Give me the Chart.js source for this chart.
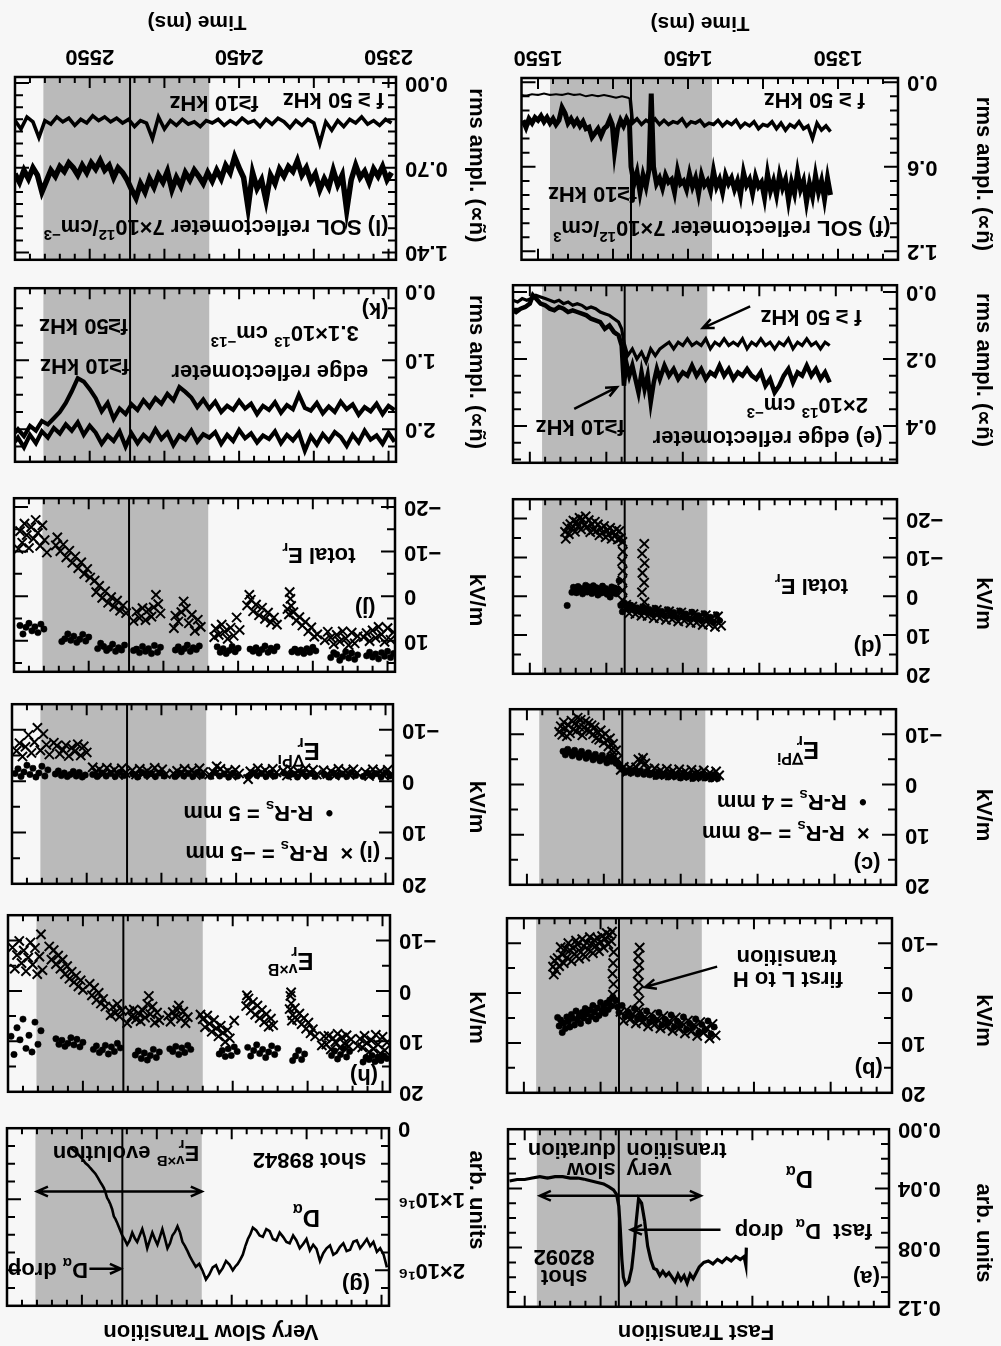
<!DOCTYPE html>
<html>
<head>
<meta charset="utf-8">
<script src="https://cdn.jsdelivr.net/npm/chart.js@4.4.0/dist/chart.umd.min.js"></script>
<style>
  html, body { margin: 0; padding: 0; background: #f7f7f7; overflow: hidden; }
  #page { position: relative; width: 1001px; height: 1346px; transform: rotate(180deg); transform-origin: 50% 50%;
          font-family: "Liberation Sans", Arial, sans-serif; }
  #page canvas { position: absolute; }
  .head { position: absolute; font-weight: bold; font-size: 22px; white-space: nowrap; transform: translate(-50%, -50%); }
</style>
</head>
<body>
<div id="page">
  <div class="head" style="left:305px;top:14px">Fast Transition</div>
  <div class="head" style="left:790px;top:14px">Very Slow Transition</div>
</div>
<script>
// ---- time axes ----
const fastTicks = [1350, 1450, 1550];
const slowTicks = [2350, 2450, 2550];

// ---- fast transition, shot 82092 ----
const aDalpha = [[1404,0.080],[1404.3,0.092],[1405.5,0.086],[1408,0.088],[1411,0.086],[1414,0.089],[1417,0.087],[1420,0.090],[1423,0.088],[1426,0.091],[1429,0.089],[1432,0.090],[1435,0.093],[1437,0.097],[1439,0.101],[1441,0.098],[1443,0.104],[1445,0.099],[1447,0.102],[1449,0.098],[1451,0.103],[1453,0.100],[1455,0.097],[1457,0.099],[1459,0.096],[1461,0.099],[1463,0.095],[1465,0.094],[1467,0.088],[1469,0.079],[1471,0.062],[1473,0.050],[1475,0.047],[1476.5,0.062],[1478,0.080],[1479.5,0.094],[1481.5,0.103],[1483.5,0.105],[1485,0.100],[1486,0.088],[1487,0.068],[1488,0.052],[1489.5,0.044],[1491.5,0.041],[1494.5,0.039],[1498,0.037],[1502,0.036],[1506,0.035],[1510,0.034],[1515,0.033],[1520,0.033],[1525,0.032],[1530,0.032],[1535,0.033],[1540,0.032],[1545,0.033],[1550,0.034],[1555,0.034],[1560,0.035]];

const bCross = [[1425,8.5],[1427,6.2],[1429,9.1],[1431,7.0],[1433,8.0],[1435,5.8],[1437,8.6],[1439,6.4],[1441,7.7],[1443,5.5],[1445,8.1],[1447,6.0],[1449,7.2],[1451,4.9],[1453,7.6],[1455,5.6],[1457,6.8],[1459,4.6],[1461,7.1],[1463,5.2],[1465,6.4],[1467,4.3],[1469,6.7],[1471,4.8],[1473,5.9],[1475,3.9],[1477,6.1],[1479,4.2],[1481,5.3],[1483,3.4],[1485,5.6],[1487,3.8],
  [1474.5,-9.1],[1475.5,-7.4],[1474.8,-5.6],[1475.8,-3.9],[1475,-2.1],[1475.5,-0.4],[1474.7,1.5],[1475.3,3.2],
  [1491.5,-8.2],[1491.8,-6.0],[1492.2,-3.9],[1491.6,-1.8],[1492,0.3],[1491.7,2.4],
  [1492.5,-12.3],[1493,-10.4],[1494,-11.6],[1495,-9.8],[1496,-12.0],[1497,-10.9],[1498,-9.1],[1499,-11.4],[1500,-10.2],[1501,-8.4],[1502,-11.0],[1503,-9.5],[1504,-10.6],[1505,-8.0],[1506,-9.9],[1507,-11.2],[1508,-8.7],[1509,-10.1],[1510,-7.3],[1511,-9.4],[1512,-10.8],[1513,-8.2],[1514,-6.9],[1515,-9.7],[1516,-10.5],[1517,-7.8],[1518,-9.0],[1519,-6.4],[1520,-8.6],[1521,-10.0],[1522,-7.1],[1523,-8.9],[1524,-6.0],[1525,-7.7],[1526,-9.2],[1527,-5.4],[1528,-7.0],[1529,-4.6],[1530,-6.5],[1530.5,-3.7],[1531,-5.3]];
const bDot = [[1426,6.8],[1428,8.2],[1430,5.6],[1432,7.4],[1434,6.3],[1436,7.9],[1438,5.2],[1440,6.9],[1442,6.1],[1444,7.3],[1446,4.8],[1448,6.5],[1450,5.7],[1452,6.8],[1454,4.4],[1456,6.0],[1458,5.3],[1460,6.4],[1462,3.9],[1464,5.5],[1466,4.9],[1468,5.8],[1470,3.6],[1472,5.1],[1474,4.4],[1476,5.2],[1478,3.1],[1480,4.6],[1482,3.8],[1484,4.7],[1486,2.5],[1488,3.9],[1489,2.8],[1490,1.5],
  [1492,0.8],[1493,2.6],[1494,1.4],[1495,3.3],[1496,2.0],[1497,4.1],[1498,2.7],[1499,3.6],[1500,1.9],[1501,4.5],[1502,3.0],[1503,5.2],[1504,3.8],[1505,2.5],[1506,4.7],[1507,3.4],[1508,5.6],[1509,4.2],[1510,3.1],[1511,5.0],[1512,3.9],[1513,6.1],[1514,4.6],[1515,5.4],[1516,3.6],[1517,6.4],[1518,5.1],[1519,4.3],[1520,6.8],[1521,5.7],[1522,4.8],[1523,7.1],[1524,6.0],[1525,7.9],[1526,5.4],[1527,6.6],[1528,4.9]];

const cCross = [[1425,-1.8],[1427,-2.6],[1429,-1.4],[1431,-2.3],[1433,-1.6],[1435,-2.8],[1437,-1.9],[1439,-2.5],[1441,-1.5],[1443,-2.9],[1445,-2.0],[1447,-2.6],[1449,-1.7],[1451,-3.0],[1453,-2.1],[1455,-2.7],[1457,-1.8],[1459,-3.1],[1461,-2.2],[1463,-2.8],[1465,-1.9],[1467,-3.2],[1469,-2.4],[1471,-3.0],[1473,-4.2],[1474.5,-5.3],[1476,-4.6],[1477.5,-5.0],[1479,-3.4],[1481,-2.6],[1483,-3.3],[1485,-2.5],[1487,-3.5],[1489,-2.9],
  [1491,-5.0],[1492,-6.8],[1493,-5.6],[1494,-8.1],[1495,-6.9],[1496,-9.2],[1497,-7.6],[1498,-8.8],[1499,-10.1],[1500,-8.3],[1501,-9.6],[1502,-10.8],[1503,-8.9],[1504,-10.3],[1505,-9.2],[1506,-11.4],[1507,-10.0],[1508,-11.8],[1509,-10.6],[1510,-12.2],[1511,-10.9],[1512,-12.6],[1513,-11.3],[1514,-9.8],[1515,-12.9],[1516,-11.5],[1517,-13.3],[1518,-10.6],[1519,-12.1],[1520,-11.0],[1521,-12.7],[1522,-10.2],[1523,-11.8],[1524,-9.6],[1525,-11.3],[1526,-12.4],[1527,-9.9],[1528,-11.6],[1529,-10.5]];
const cDot = [[1426,-1.2],[1428,-2.0],[1430,-1.1],[1432,-1.8],[1434,-1.3],[1436,-2.1],[1438,-1.4],[1440,-2.2],[1442,-1.2],[1444,-1.9],[1446,-1.5],[1448,-2.3],[1450,-1.3],[1452,-2.0],[1454,-1.6],[1456,-2.4],[1458,-1.5],[1460,-2.1],[1462,-1.7],[1464,-2.5],[1466,-1.6],[1468,-2.2],[1470,-1.9],[1472,-2.6],[1474,-2.0],[1476,-2.7],[1478,-2.1],[1480,-2.9],[1482,-2.3],[1484,-2.8],[1486,-2.4],[1488,-3.0],[1490,-3.6],
  [1492,-4.2],[1493.5,-5.1],[1495,-4.6],[1496.5,-5.5],[1498,-4.3],[1499.5,-5.0],[1501,-5.8],[1502.5,-4.7],[1504,-5.3],[1505.5,-6.0],[1507,-4.9],[1508.5,-5.6],[1510,-6.3],[1511.5,-5.2],[1513,-5.9],[1514.5,-6.6],[1516,-5.4],[1517.5,-6.1],[1519,-6.8],[1520.5,-5.7],[1522,-6.4],[1523.5,-7.0],[1525,-5.9],[1526.5,-6.6]];

const dCross = [[1425,7.6],[1427,5.2],[1429,7.9],[1431,5.8],[1433,7.2],[1435,4.9],[1437,7.4],[1439,5.5],[1441,6.8],[1443,4.6],[1445,6.9],[1447,5.1],[1449,6.3],[1451,4.2],[1453,6.5],[1455,4.8],[1457,6.0],[1459,3.9],[1461,6.1],[1463,4.4],[1465,5.6],[1467,3.5],[1469,5.7],[1471,4.0],[1473,5.1],[1475,3.2],[1477,5.0],[1479,3.6],[1481,4.6],[1483,2.7],[1485,4.4],[1487,2.2],
  [1475.2,-13.5],[1476.6,-11.0],[1475.0,-8.5],[1476.4,-6.0],[1475.3,-3.5],[1476.7,-1.0],[1475.1,1.5],
  [1489.5,-14.0],[1489.2,-11.5],[1489.7,-9.0],[1489.3,-6.5],[1489.6,-4.0],[1489.4,-1.5],[1489.5,1.0],
  [1490.5,-15.0],[1491.5,-16.8],[1492.5,-14.6],[1493.5,-17.2],[1494.5,-15.6],[1495.5,-16.5],[1496.5,-14.8],[1497.5,-17.6],[1498.5,-15.9],[1499.5,-16.9],[1500.5,-15.2],[1501.5,-18.1],[1502.5,-16.3],[1503.5,-17.4],[1504.5,-15.7],[1505.5,-18.5],[1506.5,-16.8],[1507.5,-19.2],[1508.5,-17.1],[1509.5,-18.6],[1510.5,-16.5],[1511.5,-19.6],[1512.5,-17.9],[1513.5,-20.6],[1514.5,-18.3],[1515.5,-19.8],[1516.5,-17.2],[1517.5,-20.2],[1518.5,-18.0],[1519.5,-19.1],[1520.5,-16.6],[1521.5,-19.5],[1522.5,-17.5],[1523.5,-18.6],[1524.5,-16.0],[1525.5,-17.9],[1526.5,-14.8],[1527,-16.6]];
const dDot = [[1426,6.3],[1428,4.8],[1430,6.7],[1432,5.4],[1434,6.0],[1436,4.5],[1438,6.2],[1440,5.0],[1442,5.7],[1444,4.1],[1446,5.8],[1448,4.6],[1450,5.3],[1452,3.8],[1454,5.4],[1456,4.2],[1458,4.9],[1460,3.5],[1462,5.0],[1464,3.9],[1466,4.5],[1468,3.1],[1470,4.6],[1472,3.4],[1474,4.1],[1476,2.8],[1478,4.0],[1480,3.0],[1482,3.6],[1484,2.3],[1486,3.3],[1488,1.8],[1489.5,4.0],[1490.5,2.4],
  [1491.6,-4.0],[1492.5,-1.8],[1493.5,-0.6],[1494.5,-2.1],[1495.5,-0.9],[1496.5,-2.4],[1497.5,0.2],[1498.5,-1.5],[1499.5,-0.5],[1500.5,-2.0],[1501.5,-1.0],[1502.5,-2.6],[1503.5,-0.8],[1504.5,-1.9],[1505.5,-0.3],[1506.5,-2.2],[1507.5,-1.2],[1508.5,-2.7],[1509.5,-0.7],[1510.5,-1.7],[1511.5,-2.4],[1512.5,-1.1],[1513.5,-2.8],[1514.5,-1.4],[1515.5,-0.6],[1516.5,-2.0],[1517.5,-1.3],[1518.5,-2.5],[1519.5,-0.9],[1520.5,-1.6],[1521.5,-2.3],[1522.5,-1.0],[1525.6,2.4]];

const eRef10 = [[1354,0.27],[1357,0.24],[1360,0.26],[1363,0.23],[1366,0.25],[1369,0.22],[1372,0.25],[1375,0.24],[1378,0.27],[1381,0.23],[1384,0.25],[1387,0.28],[1390,0.30],[1393,0.26],[1396,0.28],[1399,0.24],[1402,0.26],[1405,0.25],[1408,0.23],[1411,0.25],[1414,0.24],[1417,0.26],[1420,0.23],[1423,0.25],[1426,0.22],[1429,0.25],[1432,0.24],[1435,0.26],[1438,0.23],[1441,0.25],[1444,0.22],[1447,0.25],[1450,0.24],[1453,0.26],[1456,0.23],[1459,0.25],[1462,0.22],[1465,0.26],[1467,0.23],[1469,0.27],[1471,0.33],[1473,0.25],[1475,0.29],[1477,0.24],[1479,0.30],[1481,0.26],[1483,0.22],[1485,0.25],[1487,0.21],[1488.5,0.28],[1490,0.16],[1492,0.13],[1495,0.12],[1498,0.10],[1501,0.11],[1504,0.09],[1507,0.085],[1510,0.08],[1513,0.07],[1516,0.065],[1519,0.06],[1522,0.055],[1525,0.06],[1528,0.05],[1531,0.045],[1534,0.055],[1537,0.05],[1540,0.04],[1543,0.035],[1546,0.02],[1548,0.01],[1550,0.035],[1553,0.045],[1556,0.05],[1559,0.06],[1561,0.055]];
const eRef50 = [[1354,0.16],[1357,0.15],[1360,0.17],[1363,0.15],[1366,0.16],[1369,0.14],[1372,0.16],[1375,0.15],[1378,0.17],[1381,0.14],[1384,0.16],[1387,0.15],[1390,0.17],[1393,0.15],[1396,0.16],[1399,0.14],[1402,0.16],[1405,0.15],[1408,0.17],[1411,0.14],[1414,0.16],[1417,0.15],[1420,0.16],[1423,0.14],[1426,0.16],[1429,0.15],[1432,0.17],[1435,0.14],[1438,0.16],[1441,0.15],[1444,0.16],[1447,0.14],[1450,0.16],[1453,0.15],[1456,0.17],[1459,0.15],[1462,0.16],[1465,0.17],[1468,0.19],[1471,0.17],[1474,0.21],[1477,0.18],[1480,0.20],[1483,0.17],[1486,0.19],[1488.5,0.15],[1490,0.11],[1492,0.09],[1495,0.08],[1498,0.07],[1501,0.065],[1504,0.06],[1507,0.05],[1510,0.045],[1513,0.05],[1516,0.04],[1519,0.035],[1522,0.04],[1525,0.03],[1528,0.035],[1531,0.025],[1534,0.03],[1537,0.025],[1540,0.02],[1543,0.015],[1546,0.01],[1549,0.02],[1552,0.025],[1555,0.02],[1558,0.03],[1561,0.025]];

const fSol10 = [[1355,0.80],[1357,0.68],[1359,0.83],[1361,0.70],[1363,0.78],[1365,0.66],[1367,0.81],[1369,0.72],[1371,0.85],[1373,0.70],[1375,0.76],[1377,0.64],[1379,0.79],[1381,0.71],[1383,0.84],[1385,0.69],[1387,0.75],[1389,0.66],[1391,0.80],[1393,0.70],[1395,0.77],[1397,0.65],[1399,0.82],[1401,0.71],[1403,0.74],[1405,0.67],[1407,0.79],[1409,0.69],[1411,0.73],[1413,0.64],[1415,0.80],[1417,0.70],[1419,0.76],[1421,0.68],[1423,0.72],[1425,0.66],[1427,0.78],[1429,0.69],[1431,0.74],[1433,0.63],[1435,0.77],[1437,0.70],[1439,0.73],[1441,0.66],[1443,0.79],[1445,0.68],[1447,0.74],[1449,0.65],[1451,0.76],[1453,0.70],[1455,0.72],[1457,0.63],[1459,0.78],[1461,0.69],[1463,0.71],[1465,0.66],[1467,0.75],[1469,0.68],[1471,0.72],[1473,0.60],[1474.5,0.08],[1476,0.62],[1478,0.74],[1480,0.66],[1482,0.78],[1484,0.64],[1486,0.72],[1488,0.60],
  [1489,0.30],[1491,0.26],[1493,0.31],[1495,0.27],[1497,0.33],[1499,0.49],[1500.5,0.30],[1502,0.26],[1504,0.31],[1506,0.33],[1508,0.38],[1510,0.33],[1512,0.36],[1514,0.39],[1516,0.32],[1518,0.33],[1520,0.28],[1522,0.31],[1524,0.27],[1526,0.30],[1528,0.26],[1530,0.29],[1532,0.22],[1534,0.18],[1536,0.27],[1538,0.30],[1540,0.26],[1542,0.29],[1544,0.25],[1546,0.28],[1548,0.24],[1550,0.27],[1552,0.25],[1554,0.29],[1556,0.26],[1558,0.32],[1560,0.27]];
const fSol50Pre = [[1355,0.35],[1358,0.31],[1361,0.34],[1364,0.29],[1367,0.40],[1370,0.31],[1373,0.33],[1376,0.28],[1379,0.32],[1382,0.30],[1385,0.34],[1388,0.29],[1391,0.33],[1394,0.28],[1397,0.31],[1400,0.30],[1403,0.33],[1406,0.28],[1409,0.31],[1412,0.29],[1415,0.32],[1418,0.27],[1421,0.30],[1424,0.28],[1427,0.31],[1430,0.27],[1433,0.30],[1436,0.29],[1439,0.31],[1442,0.27],[1445,0.29],[1448,0.28],[1451,0.31],[1454,0.26],[1457,0.29],[1460,0.28],[1463,0.30],[1466,0.27],[1469,0.30],[1472,0.26],[1475,0.29],[1478,0.27],[1481,0.30],[1484,0.26],[1487,0.29],[1488.5,0.12]];
const fSol50Post = [[1488.5,0.12],[1490,0.11],[1494,0.10],[1498,0.11],[1502,0.10],[1506,0.09],[1510,0.10],[1514,0.09],[1518,0.10],[1522,0.085],[1526,0.09],[1530,0.08],[1534,0.09],[1538,0.085],[1542,0.09],[1546,0.08],[1550,0.09],[1554,0.085],[1558,0.095],[1561,0.09]];

// ---- very slow transition, shot 89842 (D_alpha in 1e16) ----
const gDalpha = [[2346.4,1.96],[2348.6,1.78],[2350.9,1.69],[2353.1,1.74],[2355.4,1.60],[2357.6,1.66],[2359.8,1.56],[2362.1,1.63],[2364.3,1.69],[2366.5,1.58],[2368.8,1.60],[2371,1.71],[2373.3,1.73],[2375.5,1.62],[2377.7,1.67],[2380,1.75],[2382.2,1.78],[2384.4,1.65],[2386.7,1.69],[2388.9,1.76],[2391.1,1.87],[2393.4,1.70],[2395.6,1.64],[2397.8,1.72],[2400.1,1.56],[2402.3,1.63],[2404.6,1.69],[2406.8,1.58],[2409,1.51],[2411.3,1.62],[2413.5,1.60],[2415.7,1.53],[2418,1.47],[2420.2,1.58],[2422.5,1.56],[2424.7,1.45],[2426.9,1.42],[2429.2,1.53],[2431.4,1.51],[2433.6,1.44],[2435.9,1.40],[2437.5,1.49],[2439.2,1.56],[2440.9,1.66],[2442.6,1.78],[2444.3,1.85],[2446,1.91],[2447.7,1.95],[2449.3,2.00],[2451.5,1.92],[2453.8,1.87],[2456,1.97],[2458.3,2.04],[2460.5,1.93],[2462.7,1.96],[2465,2.06],[2467.2,2.13],[2469.4,2.01],[2471.7,1.91],[2474,1.95],[2476.2,1.87],[2478,1.80],[2479.5,1.73],[2481.2,1.66],[2482.9,1.60],[2484.5,1.47],[2486.2,1.38],[2487.9,1.46],[2489.6,1.51],[2491.2,1.62],[2492.9,1.69],[2494.6,1.55],[2496.3,1.42],[2497.9,1.53],[2499.6,1.64],[2501.3,1.56],[2503,1.47],[2504.7,1.58],[2506.4,1.69],[2508,1.54],[2509.7,1.42],[2511.4,1.51],[2513.1,1.60],[2514.7,1.55],[2516.4,1.47],[2518.1,1.58],[2519.8,1.64],[2521.4,1.57],[2523.1,1.51],[2524.8,1.42],[2526.5,1.33],[2527.6,1.28],[2528.7,1.24],[2529.8,1.14],[2531,1.07],[2532.1,1.02],[2533.2,0.98],[2534.3,0.90],[2535.4,0.84],[2536.5,0.80],[2537.7,0.76],[2539.3,0.70],[2541,0.64],[2542.7,0.60],[2544.4,0.56],[2546,0.52],[2547.7,0.49],[2549.4,0.44],[2551.1,0.40],[2552.8,0.36],[2554.4,0.33],[2556.1,0.30],[2557.8,0.27]];

const hCross = [[2347,10.2],[2348.5,11.8],[2350,9.1],[2351.5,12.4],[2353,10.6],[2354.5,8.7],[2356,11.5],[2357.5,9.8],[2359,12.1],[2360.5,10.3],[2362,8.9],[2363.5,11.2],[2365,9.5],[2366.5,10.9],
  [2371,9.6],[2372.5,11.0],[2374,8.8],[2375.5,10.4],[2377,9.2],[2378.5,11.3],[2380,8.5],[2381.5,10.1],[2383,9.4],[2384.5,11.6],[2386,8.9],[2387.5,10.6],[2389,9.0],[2390.5,10.8],
  [2395,9.0],[2396.5,7.6],[2398,8.4],[2399.5,6.3],[2401,7.5],[2402.5,5.4],[2404,6.6],[2405.5,4.5],[2407,5.7],[2408.5,3.4],[2410,4.8],[2411,2.5],[2411.5,1.0],[2410.5,5.9],[2412,3.6],[2411,0.3],
  [2423,6.8],[2424.5,5.5],[2426,7.1],[2427.5,4.6],[2429,6.2],[2430.5,3.8],[2432,5.4],[2433.5,2.9],[2435,4.7],[2436.5,2.2],[2438,3.9],[2439.5,1.5],[2440.5,0.9],[2441,3.0],
  [2449,5.9],[2452,9.4],[2453.5,7.8],[2455,10.1],[2456.5,8.3],[2458,6.9],[2459.5,9.0],[2461,7.4],[2462.5,5.8],[2464,8.1],[2465.5,6.5],[2467,4.9],[2468.5,7.2],[2470,5.6],[2471.5,4.7],
  [2480,5.2],[2481.5,6.4],[2483,4.1],[2484.5,5.5],[2486,2.9],[2487,3.8],[2488.5,5.0],[2490,4.2],[2491.5,6.1],[2493,4.9],
  [2499,5.8],[2500.5,4.3],[2502,6.3],[2503.5,3.1],[2505,4.6],[2506,1.0],[2507,2.6],[2508.5,5.3],[2510,3.9],[2511.5,6.0],[2513,4.4],[2514.5,5.6],[2516,3.7],[2517.5,5.1],[2519,4.0],[2520.5,6.4],
  [2524,3.9],[2525.5,5.1],[2527,2.6],[2528.5,4.4],[2530,3.2],[2531.5,4.8],
  [2535,3.1],[2536.5,1.6],[2538,2.5],[2539.5,0.4],[2541,1.8],[2542.5,-0.6],[2544,0.9],[2545.5,-1.4],
  [2550,-0.2],[2551.5,-2.1],[2553,-0.9],[2554.5,-3.0],[2556,-1.7],[2557.5,-3.8],[2559,-2.4],[2560.5,-4.9],[2562,-3.3],[2563.5,-6.2],[2565,-4.4],[2566.5,-7.0],[2568,-5.3],[2569.5,-8.1],[2571,-6.2],[2572.5,-8.8],
  [2577,-4.1],[2578,-11.2],[2579,-6.8],[2580.5,-3.3],[2582,-8.5],[2583.5,-5.2],[2585,-9.6],[2586.5,-6.6],[2588,-3.9],[2589.5,-8.0],[2591,-5.5],[2592.5,-9.9],[2594,-7.1],[2595.5,-4.4],[2597,-8.6]];
const hDot = [[2347,13.4],[2349,12.9],[2351,13.8],[2353,13.1],[2355,14.0],[2357,12.8],[2359,13.6],[2361,13.2],[2363,14.1],
  [2372,12.0],[2374,13.1],[2376,11.4],[2378,12.6],[2380,13.5],[2382,11.9],[2384,12.8],
  [2402,12.5],[2404,13.6],[2406,11.8],[2408,12.9],[2410,13.8],
  [2420,11.4],[2422,12.6],[2424,10.9],[2426,12.1],[2428,13.2],[2430,11.6],[2432,12.4],[2434,10.7],[2436,11.8],[2438,12.9],[2440,11.2],
  [2447,12.0],[2449,11.1],[2451,12.8],[2453,11.5],[2455,13.0],[2457,11.8],[2459,12.5],
  [2478,11.6],[2480,10.8],[2482,12.2],[2484,11.3],[2486,12.6],[2488,11.0],[2490,12.0],[2492,11.5],
  [2499,12.1],[2501,13.2],[2503,11.6],[2505,12.8],[2507,13.7],[2509,12.3],[2511,13.4],[2513,11.9],[2515,12.7],
  [2525,11.3],[2527,10.4],[2529,12.0],[2531,11.1],[2533,12.5],[2535,10.8],[2537,11.7],[2539,12.2],[2541,10.9],[2543,11.6],
  [2550,10.2],[2552,11.1],[2554,9.6],[2556,10.7],[2558,9.3],[2560,10.4],[2562,11.0],[2564,9.8],[2566,10.6],[2568,9.5],
  [2578,7.9],[2580,10.6],[2582,6.2],[2584,12.1],[2586,8.8],[2588,11.4],[2590,5.6],[2592,9.7],[2594,7.3],[2596,12.6],[2598,9.0]];

const iCross = [[2346,-1.4],[2348.5,-2.2],[2351,-1.1],[2353.5,-1.9],[2356,-1.3],[2358.5,-2.3],[2361,-1.0],[2363.5,-1.8],
  [2369,-1.6],[2371.5,-2.3],[2374,-1.2],[2376.5,-2.0],[2379,-1.5],[2381.5,-2.4],[2384,-1.1],[2386.5,-1.9],[2389,-1.4],[2391.5,-2.1],
  [2396,-1.3],[2398.5,-2.2],[2401,-1.6],[2403.5,-2.5],[2406,-1.2],[2408.5,-1.9],[2411,-1.5],[2413.5,-2.3],[2416,-1.1],[2418.5,-2.0],
  [2423,-1.7],[2425.5,-2.4],[2428,-1.2],[2430.5,-2.1],[2433,-1.6],[2435.5,-2.5],[2438,-1.3],[2440.5,-1.9],[2442,-0.4],
  [2448,-1.5],[2450.5,-2.2],[2453,-1.1],[2455.5,-2.0],[2458,-1.6],[2460.5,-2.4],[2463,-2.9],[2465.5,-1.8],[2468,-1.3],
  [2472,-1.8],[2474.5,-2.5],[2477,-1.2],[2479.5,-2.1],[2482,-1.6],[2484.5,-2.4],[2487,-1.3],[2489.5,-2.0],[2492,-1.5],
  [2497,-1.4],[2499.5,-2.3],[2502,-1.7],[2504.5,-2.6],[2507,-1.2],[2509.5,-2.0],[2512,-1.5],[2514.5,-2.4],[2517,-1.3],[2519.5,-2.1],
  [2524,-1.6],[2526.5,-2.5],[2529,-1.2],[2531.5,-2.2],[2534,-1.7],[2536.5,-2.6],[2539,-1.4],[2541.5,-2.3],[2544,-1.8],[2546,-2.7],
  [2550,-5.6],[2552,-6.8],[2554,-5.0],[2556,-7.2],[2558,-5.8],[2560,-6.5],[2562,-4.9],[2564,-7.0],[2566,-6.1],[2568,-5.3],[2570,-6.9],[2572,-7.5],
  [2575,-5.2],[2577,-7.1],[2579,-9.2],[2581,-6.0],[2583,-10.4],[2585,-7.6],[2587,-5.5],[2589,-9.0],[2591,-6.7],[2593,-4.8],[2595,-7.4],[2597,-5.9]];
const iDot = [[2347,-1.0],[2350,-1.7],[2353,-0.8],[2356,-1.5],[2359,-1.0],[2362,-1.6],[2365,-0.9],
  [2370,-1.1],[2373,-1.7],[2376,-0.9],[2379,-1.4],[2382,-1.0],[2385,-1.6],[2388,-0.8],[2391,-1.3],
  [2397,-0.9],[2400,-1.5],[2403,-1.0],[2406,-1.7],[2409,-0.8],[2412,-1.4],[2415,-1.0],[2418,-1.6],
  [2424,-1.0],[2427,-1.6],[2430,-0.9],[2433,-1.5],[2436,-1.1],[2439,-1.7],[2442,-0.9],
  [2449,-1.0],[2452,-1.6],[2455,-0.8],[2458,-1.4],[2461,-1.0],[2464,-1.7],[2467,-0.9],
  [2473,-1.1],[2476,-1.7],[2479,-0.9],[2482,-1.5],[2485,-1.0],[2488,-1.6],[2491,-0.9],
  [2498,-1.0],[2501,-1.6],[2504,-0.9],[2507,-1.5],[2510,-1.1],[2513,-1.7],[2516,-0.8],[2519,-1.4],
  [2525,-1.1],[2528,-1.7],[2531,-0.9],[2534,-1.5],[2537,-1.0],[2540,-1.6],[2543,-0.9],[2546,-1.3],
  [2551,-1.2],[2553,-0.8],[2555,-1.7],[2557,-1.0],[2559,-1.9],[2561,-1.3],[2563,-0.9],[2565,-1.6],[2567,-1.1],[2569,-2.0],[2571,-1.4],
  [2576,-2.2],[2578,-1.0],[2580,-2.9],[2582,-1.6],[2584,-0.8],[2586,-2.5],[2588,-1.3],[2590,-3.1],[2592,-1.8],[2594,-0.9],[2596,-2.4],[2598,-1.5]];

const jCross = [[2346,8.1],[2348,9.8],[2350,7.2],[2352,10.3],[2354,8.6],[2356,6.9],[2358,9.4],[2360,7.7],[2362,10.1],[2364,8.3],[2366,9.2],
  [2370,9.0],[2372,10.6],[2374,8.2],[2376,11.0],[2378,9.5],[2380,7.9],[2382,10.2],[2384,8.7],[2386,10.8],[2388,9.3],[2390,8.0],[2392,9.9],
  [2397,8.6],[2399,9.1],[2401,7.0],[2403,7.9],[2405,5.8],[2407,6.6],[2409,4.7],[2411,5.5],[2413,3.6],[2414.5,2.2],[2415,0.6],[2415.5,-0.9],[2416,4.1],[2417,2.9],
  [2424,6.4],[2426,4.8],[2428,5.9],[2430,3.7],[2432,5.1],[2434,2.6],[2436,4.3],[2438,1.9],[2440,3.4],[2441.5,0.8],[2442.5,-0.3],[2444,2.1],
  [2449,7.6],[2451,4.8],[2453,8.9],[2455,7.1],[2457,9.6],[2459,8.0],[2461,6.4],[2463,8.7],[2465,7.3],[2466,9.2],
  [2475,6.9],[2477,5.3],[2479,7.8],[2481,4.2],[2483,6.1],[2485,2.8],[2486.5,1.2],[2488,3.6],[2490,5.7],[2492,4.4],[2493,7.2],
  [2502,3.9],[2503.5,1.8],[2505,-0.3],[2506.5,2.5],[2508,4.6],[2510,3.1],[2512,5.4],[2514,2.7],[2516,4.9],[2518,3.5],[2520,5.6],
  [2525,3.8],[2527,2.1],[2529,3.3],[2531,1.0],[2533,2.4],[2535,0.2],[2537,1.5],[2539,-1.1],[2541,0.4],[2543,-2.3],[2545,-0.9],[2546,-3.5],
  [2549,-4.2],[2551,-6.1],[2553,-5.0],[2555,-7.6],[2557,-6.3],[2559,-8.9],[2561,-7.5],[2563,-10.2],[2565,-8.7],[2567,-11.6],[2569,-10.1],[2571,-13.2],[2572,-11.4],
  [2578,-9.8],[2579.5,-12.6],[2581,-15.9],[2582.5,-11.3],[2584,-14.2],[2585.5,-17.1],[2587,-12.9],[2588.5,-15.5],[2590,-10.8],[2591.5,-13.7],[2593,-16.3],[2594.5,-12.0],[2596,-14.6],[2597,-10.6]];
const jDot = [[2346,12.9],[2348,13.8],[2350,12.4],[2352,13.5],[2354,12.7],[2356,14.1],[2358,13.0],[2360,13.7],[2362,12.6],[2364,13.4],
  [2370,13.2],[2372,14.2],[2374,12.8],[2376,13.9],[2378,12.5],[2380,13.6],[2382,14.4],[2384,13.1],[2386,12.7],[2388,13.8],
  [2398,12.3],[2400,11.5],[2402,12.6],[2404,11.8],[2406,12.9],[2408,12.1],[2410,12.7],[2412,11.9],[2414,12.5],
  [2424,11.4],[2426,12.3],[2428,11.7],[2430,12.6],[2432,11.2],[2434,12.0],[2436,12.8],[2438,11.6],[2440,12.4],[2442,11.9],
  [2450,11.7],[2452,12.5],[2454,11.3],[2456,12.2],[2458,12.9],[2460,11.8],[2462,12.6],[2464,11.4],
  [2476,11.2],[2478,12.0],[2480,11.6],[2482,12.4],[2484,11.0],[2486,11.8],[2488,12.5],[2490,11.4],[2492,12.1],
  [2502,11.5],[2504,12.6],[2506,11.1],[2508,12.9],[2510,11.8],[2512,12.4],[2514,11.3],[2516,12.7],[2518,11.9],[2520,12.2],
  [2526,11.0],[2528,12.1],[2530,11.6],[2532,12.4],[2534,10.8],[2536,11.7],[2538,12.2],[2540,11.3],[2542,10.6],[2544,11.8],
  [2550,9.2],[2552,10.1],[2554,8.6],[2556,9.7],[2558,10.4],[2560,9.0],[2562,9.9],[2564,8.5],[2566,9.6],[2568,10.2],
  [2580,7.4],[2582,6.3],[2584,8.2],[2586,6.9],[2588,7.8],[2590,6.1],[2592,7.0],[2594,8.5],[2596,6.6]];

const kRef10 = [[2346,2.18],[2350,2.05],[2354,2.21],[2358,2.09],[2362,2.15],[2366,2.02],[2370,2.19],[2374,2.08],[2378,2.24],[2382,2.11],[2386,2.04],[2390,2.17],[2394,2.07],[2398,2.22],[2402,2.10],[2406,2.31],[2410,2.05],[2414,2.16],[2418,2.08],[2422,2.20],[2426,2.03],[2430,2.14],[2434,2.09],[2438,2.19],[2442,2.06],[2446,2.13],[2450,2.01],[2454,2.17],[2458,2.08],[2462,2.21],[2466,2.04],[2470,2.12],[2474,2.07],[2478,2.18],[2482,2.02],[2486,2.15],[2490,2.09],[2494,2.23],[2498,2.05],[2502,2.14],[2506,2.00],[2510,2.16],[2514,2.08],[2518,2.20],[2522,2.06],[2526,2.25],[2530,2.03],[2534,2.17],[2538,2.09],[2542,2.21],[2546,2.05],[2550,1.95],[2554,2.08],[2558,1.90],[2562,2.02],[2566,1.93],[2570,2.06],[2574,1.98],[2578,2.12],[2582,2.03],[2586,2.20],[2590,2.08],[2594,2.26],[2598,2.12],[2600,2.18]];
const kRef50 = [[2346,1.72],[2350,1.66],[2354,1.78],[2358,1.63],[2362,1.74],[2366,1.68],[2370,1.79],[2374,1.64],[2378,1.71],[2382,1.60],[2386,1.75],[2390,1.67],[2394,1.77],[2398,1.62],[2402,1.73],[2406,1.69],[2410,1.50],[2414,1.71],[2418,1.65],[2422,1.76],[2426,1.61],[2430,1.72],[2434,1.66],[2438,1.78],[2442,1.63],[2446,1.70],[2450,1.59],[2454,1.72],[2458,1.66],[2462,1.75],[2466,1.60],[2470,1.70],[2474,1.57],[2478,1.68],[2482,1.54],[2486,1.46],[2490,1.39],[2494,1.58],[2498,1.49],[2502,1.63],[2506,1.55],[2510,1.68],[2514,1.58],[2518,1.72],[2522,1.64],[2526,1.78],[2530,1.70],[2534,1.85],[2538,1.62],[2542,1.74],[2546,1.55],[2550,1.42],[2554,1.31],[2558,1.26],[2562,1.45],[2566,1.62],[2570,1.75],[2574,1.84],[2578,1.93],[2582,1.88],[2586,2.02],[2590,1.95],[2594,2.10],[2598,2.00],[2600,2.05]];

const lSol10 = [[2348,0.74],[2351,0.80],[2354,0.69],[2357,0.77],[2360,0.71],[2363,0.82],[2366,0.73],[2369,0.78],[2372,0.68],[2375,0.80],[2378,1.05],[2381,0.76],[2384,0.84],[2387,0.72],[2390,0.86],[2393,0.79],[2396,0.88],[2399,0.75],[2402,0.81],[2405,0.70],[2408,0.76],[2411,0.64],[2414,0.73],[2417,0.69],[2420,0.77],[2423,0.71],[2426,0.83],[2429,0.76],[2432,0.97],[2435,0.80],[2438,0.87],[2441,0.74],[2444,1.03],[2447,0.78],[2450,0.70],[2453,0.61],[2456,0.74],[2459,0.68],[2462,0.79],[2465,0.72],[2468,0.81],[2471,0.74],[2474,0.83],[2477,0.77],[2480,0.72],[2483,0.80],[2486,0.74],[2489,0.85],[2492,0.78],[2495,0.88],[2498,0.73],[2501,0.82],[2504,0.76],[2507,0.86],[2510,0.79],[2513,0.90],[2516,0.83],[2519,0.95],[2522,0.88],[2525,0.80],[2528,0.74],[2531,0.70],[2534,0.78],[2537,0.68],[2540,0.72],[2543,0.64],[2546,0.71],[2549,0.66],[2552,0.74],[2555,0.68],[2558,0.76],[2561,0.70],[2564,0.66],[2567,0.73],[2570,0.69],[2573,0.77],[2576,0.72],[2579,0.81],[2582,0.90],[2585,0.76],[2588,0.70],[2591,0.79],[2594,0.72],[2597,0.82],[2600,0.75]];
const lSol50 = [[2348,0.33],[2352,0.30],[2356,0.35],[2360,0.31],[2364,0.34],[2368,0.28],[2372,0.33],[2376,0.30],[2380,0.36],[2384,0.31],[2388,0.39],[2392,0.32],[2396,0.50],[2400,0.33],[2404,0.30],[2408,0.35],[2412,0.31],[2416,0.37],[2420,0.32],[2424,0.29],[2428,0.34],[2432,0.30],[2436,0.36],[2440,0.31],[2444,0.33],[2448,0.29],[2452,0.34],[2456,0.31],[2460,0.35],[2464,0.30],[2468,0.33],[2472,0.31],[2476,0.36],[2480,0.32],[2484,0.34],[2488,0.30],[2492,0.35],[2496,0.31],[2500,0.38],[2504,0.28],[2508,0.46],[2512,0.33],[2516,0.31],[2520,0.36],[2524,0.30],[2528,0.33],[2532,0.29],[2536,0.32],[2540,0.28],[2544,0.31],[2548,0.27],[2552,0.33],[2556,0.30],[2560,0.35],[2564,0.29],[2568,0.32],[2572,0.28],[2576,0.34],[2580,0.31],[2584,0.45],[2588,0.32],[2592,0.28],[2596,0.38],[2600,0.31]];

// ---- layout / styling ----
const FONT = '"Liberation Sans", Arial, sans-serif';
const SHADE = '#bababa';
Chart.defaults.font.family = FONT;
Chart.defaults.font.weight = 'bold';
Chart.defaults.color = '#000';

const FAST = {min: 1310, max: 1561, shade: [1434, 1542], line: 1488, ticks: fastTicks, left: 0, titleX: 18, timeX: 301};
const SLOW = {min: 2345, max: 2600, shade: [2470, 2581], line: 2523, ticks: slowTicks, left: 500, titleX: 525, timeX: 804};

const minus = s => s.replace('-', '\u2212');
const fmtDec = n => v => minus(v.toFixed(n));
const fmtInt = v => minus(String(v));
const fmtE16 = v => v === 0 ? '0' : v + '\u00d710\u00b9\u2076';

const line = (data, width) => ({data, line: true, width});
const cross = data => ({data, style: 'crossRot', r: 6.5});
const dot = data => ({data, style: 'circle', r: 3.2});

const panels = [
  {col: FAST, box: [112, 493, 33, 223], y: [0, 0.12], labels: [0, 0.04, 0.08, 0.12], fmt: fmtDec(2), minor: 0.01,
   title: 'arb. units', titleDy: -15, series: [line(aDalpha, 3.2)],
   texts: [['(a)', 1316, 0.100], ['D_{\u03b1}', 1360, 0.033, 'l', 24], ['fast  D_{\u03b1}  drop', 1321, 0.068],
           ['very', 1483, 0.027, 'r'], ['slow', 1490, 0.027], ['transition', 1483, 0.0137, 'r'], ['duration', 1490, 0.0137],
           ['shot', 1524, 0.099, 'c'], ['82092', 1524, 0.0855, 'c']],
   arrows: [[1421, 0.068, 1480, 0.068], [1434, 0.045, 1540, 0.045, true]]},
  {col: FAST, box: [109, 494, 247, 434], y: [-15, 20], labels: [-10, 0, 10, 20], fmt: fmtInt, minor: 5,
   title: 'kV/m', titleDy: -15, series: [cross(bCross), dot(bDot)],
   texts: [['(b)', 1316, 15.1], ['first L to H', 1342, -3.1], ['transition', 1346, -7.4]],
   arrows: [[1424, -5.3, 1471, -1.2]]},
  {col: FAST, box: [105, 491, 455, 643], y: [-15, 20], labels: [-10, 0, 10, 20], fmt: fmtInt, minor: 5,
   title: 'kV/m', titleDy: -18, series: [cross(cCross), dot(cDot)],
   texts: [['(c)', 1320, 15.6], ['\u00d7  R-R_{s} = \u22128 mm', 1327, 9.5], ['\u2022  R-R_{s} = 4 mm', 1329, 3.4],
           ['E_{r}^{\u2207Pi}', 1360, -7.2, 'l', 24]], arrows: []},
  {col: FAST, box: [104, 488, 666, 853], y: [-25, 20], labels: [-20, -10, 0, 10, 20], fmt: fmtInt, minor: 5,
   title: 'kV/m', titleDy: -17, series: [cross(dCross), dot(dDot)],
   texts: [['(d)', 1320, 12.8], ['total E_{r}', 1342, -2.8]], arrows: []},
  {col: FAST, box: [104, 488, 877, 1067], y: [-0.02, 0.51], labels: [0, 0.2, 0.4], fmt: fmtDec(1), minor: 0.05,
   title: 'rms ampl. (\u221d\u00f1)', titleDy: 4, series: [line(eRef10, 4.5), line(eRef50, 3.2)],
   texts: [['(e) edge reflectometer', 1319.5, 0.432], ['2\u00d710^{13} cm^{\u22123}', 1329, 0.335],
           ['f\u226510 kHz', 1488, 0.40], ['f \u2265 50 kHz', 1333, 0.071]],
   arrows: [[1521, 0.349, 1493, 0.284], [1406, 0.043, 1437, 0.108]]},
  {col: FAST, box: [103, 484, 1080, 1268], y: [-0.03, 1.26], labels: [0, 0.6, 1.2], fmt: fmtDec(1), minor: 0.1,
   title: 'rms ampl. (\u221d\u00f1)', titleDy: -5, bottom: true,
   series: [line(fSol10, 5), line(fSol50Pre, 3.5), line(fSol50Post, 2)],
   texts: [['(f) SOL reflectometer 7\u00d710^{12}/cm^{3}', 1315, 1.03], ['f \u2265 50 kHz', 1332, 0.123], ['f\u226510 kHz', 1484, 0.787]],
   arrows: []},

  {col: SLOW, box: [612, 994, 34, 224], y: [0, 2.5], labels: [0, 1, 2], fmt: fmtE16, minor: 0.25,
   title: 'arb. units', titleDy: 17, series: [line(gDalpha, 2.6)],
   texts: [['(g)', 2357.6, 2.2], ['D_{\u03b1} drop', 2546, 1.98], ['D_{\u03b1}', 2391, 1.24, 'l', 24], ['shot 89842', 2360, 0.43],
           ['E_{r}^{v\u00d7B} evolution', 2471.7, 0.33]],
   arrows: [[2545, 1.98, 2524, 1.98], [2470, 0.89, 2580, 0.89, true]]},
  {col: SLOW, box: [611, 993, 248, 437], y: [-15, 20], labels: [-10, 0, 10, 20], fmt: fmtInt, minor: 5,
   title: 'kV/m', titleDy: -14, series: [cross(hCross), dot(hDot)],
   texts: [['(h)', 2353, 16.7], ['E_{r}^{v\u00d7B}', 2396, -6.25, 'l', 24]], arrows: []},
  {col: SLOW, box: [608, 989, 456, 648], y: [-15, 20], labels: [-10, 0, 10, 20], fmt: fmtInt, minor: 5,
   title: 'kV/m', titleDy: -13, series: [cross(iCross), dot(iDot)],
   texts: [['(i) \u00d7  R-R_{s} = \u22125 mm', 2353.6, 13.9], ['\u2022  R-R_{s} = 5 mm', 2385, 6.1], ['E_{r}^{\u2207Pi}', 2394, -6.1, 'l', 24]],
   arrows: []},
  {col: SLOW, box: [606, 987, 668, 854], y: [-22, 17], labels: [-20, -10, 0, 10], fmt: fmtInt, minor: 5,
   title: 'kV/m', titleDy: -15, series: [cross(jCross), dot(jDot)],
   texts: [['(j)', 2358, 2.7], ['total E_{r}', 2371.5, -9.5]], arrows: []},
  {col: SLOW, box: [605, 986, 878, 1064], y: [-0.04, 2.47], labels: [0, 1, 2], fmt: fmtDec(1), minor: 0.25,
   title: 'rms ampl. (\u221d\u00f1)', titleDy: 3, series: [line(kRef10, 4.2), line(kRef50, 4.2)],
   texts: [['(k)', 2350, 0.26], ['3.1\u00d710^{13} cm^{\u221213}', 2370, 0.6], ['edge reflectometer', 2363.6, 1.16],
           ['f\u226510 kHz', 2523.6, 1.07], ['f\u226550 kHz', 2524.3, 0.49]], arrows: []},
  {col: SLOW, box: [605, 986, 1080, 1269], y: [-0.05, 1.46], labels: [0, 0.7, 1.4], fmt: fmtDec(2), minor: 0.1,
   title: 'rms ampl. (\u221d\u00f1)', titleDy: 3, bottom: true, series: [line(lSol10, 5.5), line(lSol50, 3.6)],
   texts: [['(l) SOL reflectometer 7\u00d710^{12}/cm^{\u22123}', 2350, 1.18], ['f \u2265 50 kHz', 2353, 0.135], ['f\u226510 kHz', 2437, 0.16]],
   arrows: []}
];

// text with _{sub} and ^{sup}; a sup right after a sub is stacked above it
function parseRich(str) {
  const out = [];
  let buf = '', i = 0;
  while (i < str.length) {
    const c = str[i];
    if ((c === '_' || c === '^') && str[i + 1] === '{') {
      if (buf) { out.push({t: buf, k: 'n'}); buf = ''; }
      const j = str.indexOf('}', i);
      out.push({t: str.slice(i + 2, j), k: c === '_' ? 'b' : 'p'});
      i = j + 1;
    } else { buf += c; i++; }
  }
  if (buf) out.push({t: buf, k: 'n'});
  return out;
}

function drawRich(ctx, str, x, y, size, align) {
  const segs = parseRich(str);
  let w = 0, lastStart = 0, prevK = 'n';
  const items = [];
  segs.forEach(sg => {
    const s = sg.k === 'n' ? size : Math.round(size * 0.68);
    ctx.font = `bold ${s}px ${FONT}`;
    const sw = ctx.measureText(sg.t).width;
    let sx;
    if (sg.k === 'p' && prevK === 'b') { sx = lastStart; w = Math.max(w, sx + sw); }
    else { sx = w; w += sw; }
    items.push({sg, s, sx});
    lastStart = sx; prevK = sg.k;
  });
  const x0 = align === 'r' ? x - w : align === 'c' ? x - w / 2 : x;
  ctx.textBaseline = 'middle';
  ctx.textAlign = 'left';
  items.forEach(it => {
    ctx.font = `bold ${it.s}px ${FONT}`;
    const dy = it.sg.k === 'b' ? size * 0.32 : it.sg.k === 'p' ? -size * 0.38 : 0;
    ctx.fillText(it.sg.t, x0 + it.sx, y + dy);
  });
}

function head(ctx, x1, y1, x2, y2) {
  const ang = Math.atan2(y2 - y1, x2 - x1), L = 12, w = 0.42;
  ctx.moveTo(x2 - L * Math.cos(ang - w), y2 - L * Math.sin(ang - w));
  ctx.lineTo(x2, y2);
  ctx.lineTo(x2 - L * Math.cos(ang + w), y2 - L * Math.sin(ang + w));
}

function decor(p) {
  return {
    id: 'decor',
    beforeDatasetsDraw(chart) {
      const {ctx, chartArea: a, scales: {x}} = chart;
      const s1 = x.getPixelForValue(p.col.shade[0]), s2 = x.getPixelForValue(p.col.shade[1]);
      ctx.save();
      ctx.fillStyle = SHADE;
      ctx.fillRect(s1, a.top, s2 - s1, a.bottom - a.top);
      const lx = x.getPixelForValue(p.col.line);
      ctx.strokeStyle = '#000';
      ctx.lineWidth = 2;
      ctx.beginPath(); ctx.moveTo(lx, a.top); ctx.lineTo(lx, a.bottom); ctx.stroke();
      ctx.restore();
    },
    afterDatasetsDraw(chart) {
      const {ctx, chartArea: a, scales: {x, y}} = chart;
      ctx.save();
      ctx.strokeStyle = '#000';
      ctx.fillStyle = '#000';
      ctx.lineWidth = 2;
      ctx.beginPath();
      for (let t = Math.ceil(p.col.min / 10) * 10; t <= p.col.max; t += 10) {
        const px = x.getPixelForValue(t);
        if (px < a.left + 3 || px > a.right - 3) continue;
        const len = t % 50 === 0 ? 11 : 6;
        ctx.moveTo(px, a.bottom); ctx.lineTo(px, a.bottom - len);
        ctx.moveTo(px, a.top); ctx.lineTo(px, a.top + len);
      }
      const k0 = Math.ceil(p.y[0] / p.minor - 1e-6), k1 = Math.floor(p.y[1] / p.minor + 1e-6);
      for (let k = k0; k <= k1; k++) {
        const v = k * p.minor, py = y.getPixelForValue(v);
        if (py < a.top + 3 || py > a.bottom - 3) continue;
        const len = p.labels.some(l => Math.abs(l - v) < p.minor / 10) ? 14 : 8;
        ctx.moveTo(a.left, py); ctx.lineTo(a.left + len, py);
        ctx.moveTo(a.right, py); ctx.lineTo(a.right - len, py);
      }
      ctx.stroke();
      ctx.lineWidth = 2.5;
      ctx.strokeRect(a.left, a.top, a.right - a.left, a.bottom - a.top);

      p.texts.forEach(([s, t, v, al, size]) =>
        drawRich(ctx, s, x.getPixelForValue(t), y.getPixelForValue(v), size || 22, al || 'l'));

      ctx.lineWidth = 2.5;
      ctx.beginPath();
      p.arrows.forEach(([t1, v1, t2, v2, both]) => {
        const x1 = x.getPixelForValue(t1), y1 = y.getPixelForValue(v1);
        const x2 = x.getPixelForValue(t2), y2 = y.getPixelForValue(v2);
        ctx.moveTo(x1, y1); ctx.lineTo(x2, y2);
        head(ctx, x1, y1, x2, y2);
        if (both) head(ctx, x2, y2, x1, y1);
      });
      ctx.stroke();

      ctx.font = `bold 22px ${FONT}`;
      ctx.textAlign = 'center';
      ctx.textBaseline = 'middle';
      ctx.save();
      ctx.translate(p.col.titleX - p.col.left, (a.top + a.bottom) / 2 + p.titleDy);
      ctx.rotate(-Math.PI / 2);
      ctx.fillText(p.title, 0, 0);
      ctx.restore();
      if (p.bottom) {
        ctx.font = `bold 21px ${FONT}`;
        ctx.fillText('Time (ms)', p.col.timeX - p.col.left, a.bottom + 55);
      }
      ctx.restore();
    }
  };
}

const page = document.getElementById('page');
const PAD = 16;

panels.forEach(p => {
  const [L, R, T, B] = p.box;
  const colLeft = p.col.left;
  const W = R + 12 - colLeft;
  const H = (B - T) + 2 * PAD + (p.bottom ? 60 : 0);
  const cv = document.createElement('canvas');
  cv.width = W; cv.height = H;
  cv.style.left = colLeft + 'px';
  cv.style.top = (T - PAD) + 'px';
  cv.style.width = W + 'px';
  cv.style.height = H + 'px';
  page.appendChild(cv);

  new Chart(cv, {
    type: 'scatter',
    data: {
      datasets: p.series.map(s => ({
        data: s.data.map(([t, v]) => ({x: t, y: v})),
        showLine: !!s.line,
        borderColor: '#000',
        backgroundColor: '#000',
        borderWidth: s.line ? s.width : 1.6,
        borderJoinStyle: 'miter',
        pointRadius: s.line ? 0 : s.r,
        pointStyle: s.style || 'circle',
        pointBorderWidth: s.style === 'crossRot' ? 2 : 0.5,
        pointBackgroundColor: '#000',
        pointBorderColor: '#000',
        tension: 0
      }))
    },
    options: {
      responsive: false,
      animation: false,
      devicePixelRatio: 1,
      events: [],
      layout: {padding: {left: 0, right: 12, top: PAD, bottom: p.bottom ? 0 : PAD}},
      plugins: {legend: {display: false}, tooltip: {enabled: false}},
      scales: {
        x: {
          type: 'linear', min: p.col.min, max: p.col.max, display: !!p.bottom,
          grid: {display: false, drawTicks: false}, border: {display: false},
          afterBuildTicks: s => { s.ticks = p.col.ticks.map(v => ({value: v})); },
          afterFit: s => { s.height = p.bottom ? PAD + 60 : 0; },
          ticks: {autoSkip: false, maxRotation: 0, padding: 8, color: '#000',
                  font: {size: 22, weight: 'bold'}, callback: v => String(v)}
        },
        y: {
          type: 'linear', min: p.y[0], max: p.y[1],
          grid: {display: false, drawTicks: false}, border: {display: false},
          afterBuildTicks: s => { s.ticks = p.labels.map(v => ({value: v})); },
          afterFit: s => { s.width = L - colLeft; },
          ticks: {autoSkip: false, padding: 9, color: '#000',
                  font: {size: 22, weight: 'bold'}, callback: v => p.fmt(v)}
        }
      }
    },
    plugins: [decor(p)]
  });
});
</script>
</body>
</html>
